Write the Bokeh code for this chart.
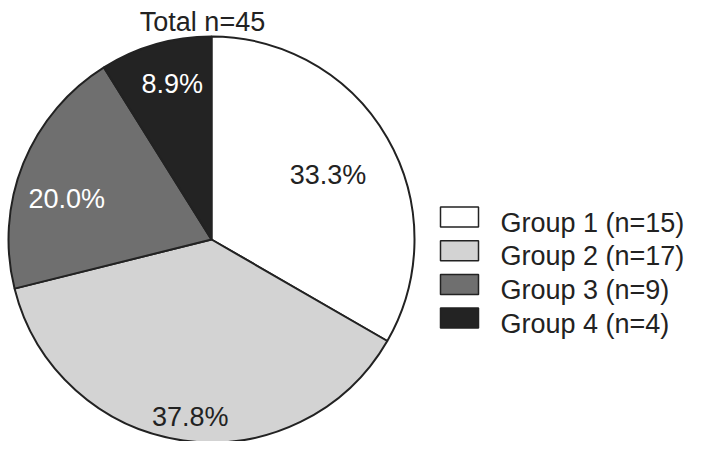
import numpy as np
from bokeh.plotting import figure
from bokeh.models import Range1d, ColumnDataSource
from bokeh.core.properties import value
from bokeh.embed import file_html
from bokeh.resources import INLINE

# ---- data ----
groups = ["Group 1", "Group 2", "Group 3", "Group 4"]
counts = [15, 17, 9, 4]
title_text = "Total n=45"

# ---- style ----
fills = ["#ffffff", "#d3d3d3", "#6f6f6f", "#232323"]
label_colors = ["#222222", "#222222", "#ffffff", "#ffffff"]
label_rfrac = [0.682, 0.832, 0.754, 0.836]
label_dang = [2.7, 0.8, 3.0, -2.6]   # degrees
FONT = "Liberation Sans"
FS = "27px"
EDGE = "#222222"

total = sum(counts)
vals = np.array(counts, dtype=float)
cum = np.cumsum(vals)
prev = cum - vals
start = np.pi / 2 - 2 * np.pi * prev / total
end = np.pi / 2 - 2 * np.pi * cum / total
mid = (start + end) / 2
pcts = ["%.1f%%" % (100.0 * v / total) for v in vals]

# coordinate frame: x = px from left, y = -px from top
W, H = 686, 441
cx, cy, R = 211.0, -239.0, 203.0

p = figure(width=W, height=H, output_backend="svg", toolbar_location=None,
           x_range=Range1d(0, W), y_range=Range1d(-H, 0),
           min_border=0, min_border_left=0, min_border_right=0,
           min_border_top=0, min_border_bottom=0)
p.axis.visible = False
p.grid.visible = False
p.outline_line_color = None
p.background_fill_color = "white"
p.border_fill_color = "white"

src = ColumnDataSource(dict(start=start, end=end, fill=fills, group=groups))
p.wedge(x=cx, y=cy, radius=R, start_angle="start", end_angle="end",
        direction="clock", fill_color="fill", line_color=EDGE, line_width=2,
        source=src)

# percentage labels
rf = np.array(label_rfrac)
ang = mid + np.radians(label_dang)
lx = cx + rf * R * np.cos(ang)
ly = cy + rf * R * np.sin(ang) - 9.8
p.text(x=lx, y=ly, text=pcts, text_color=label_colors, text_align="center",
       text_baseline="alphabetic", text_font=value(FONT), text_font_size=FS)

# title
p.text(x=[202], y=[-21], text=[title_text], text_color="#222222",
       text_align="center", text_baseline="alphabetic",
       text_font=value(FONT), text_font_size=FS)

# legend
idx = np.arange(len(groups))
box_y = -(216.5 + 33.7 * idx)
p.rect(x=459, y=box_y, width=38, height=20, fill_color=fills,
       line_color=EDGE, line_width=1.5)
leg_labels = ["%s (n=%d)" % (g, c) for g, c in zip(groups, counts)]
p.text(x=500, y=box_y - 5.5, text=leg_labels, text_color="#222222",
       text_align="left", text_baseline="alphabetic",
       text_font=value(FONT), text_font_size=FS)

open("out.html", "w").write(file_html(p, INLINE))
